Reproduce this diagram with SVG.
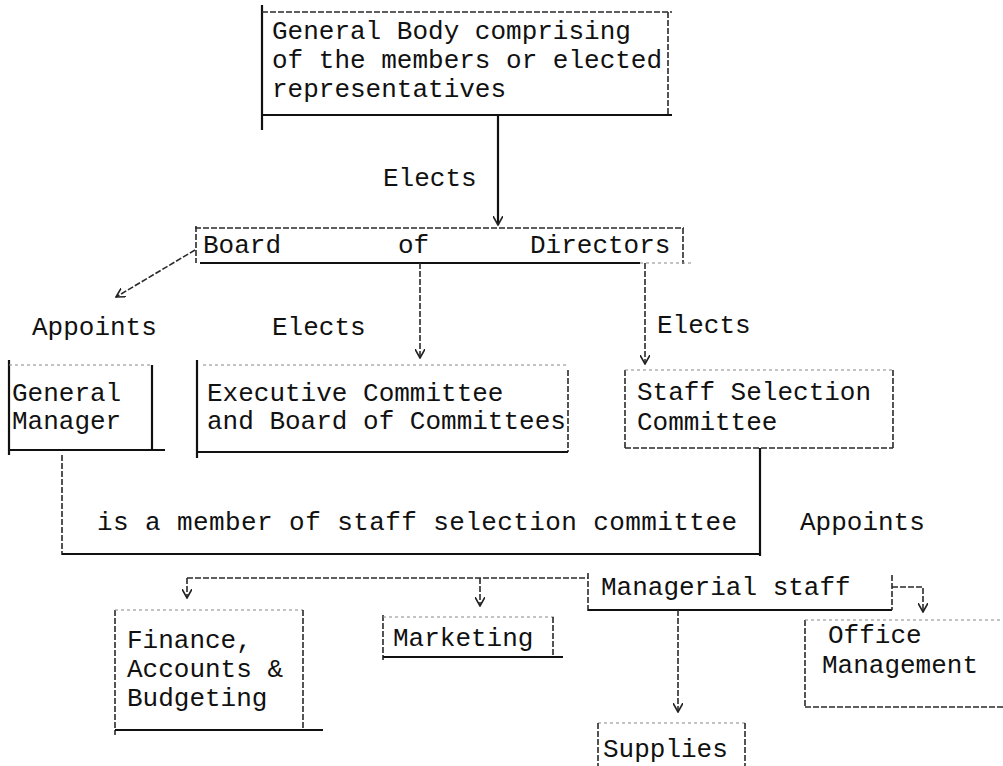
<svg xmlns="http://www.w3.org/2000/svg" width="1003" height="766" viewBox="0 0 1003 766">
<defs>
<marker id="ah" viewBox="0 0 10 10" refX="9" refY="5" markerWidth="10" markerHeight="10" markerUnits="userSpaceOnUse" orient="auto">
<path d="M0,0 L9,5 L0,10" fill="none" stroke="#222" stroke-width="1.6"/>
</marker>
<style>
.t{font-family:"Liberation Mono","Courier New",monospace;font-size:26px;fill:#111}
.s{stroke:#111;stroke-width:2.2;fill:none}
.d{stroke:#2a2a2a;stroke-width:1.6;stroke-dasharray:6 2;fill:none}
.f{stroke:#888;stroke-width:1.2;stroke-dasharray:3 3;fill:none}
.a{marker-end:url(#ah)}
</style>
</defs>
<rect width="1003" height="766" fill="#fff"/>

<g id="general-body">
<path class="s" d="M262,5 V130"/>
<path class="d" d="M262,12 H672"/>
<path class="d" d="M668,12 V115"/>
<path class="s" d="M262,115 H672"/>
<text class="t" x="272" y="39">General Body comprising</text>
<text class="t" x="272" y="68">of the members or elected</text>
<text class="t" x="272" y="97">representatives</text>
</g>

<g id="board">
<path class="d" d="M195,228 H684"/>
<path class="d" d="M196,226 V263"/>
<path class="d" d="M683,228 V264"/>
<path class="s" d="M200,263 H640"/>
<path class="f" d="M640,263 H693"/>
<text class="t" x="203" y="253">Board</text>
<text class="t" x="398" y="253">of</text>
<text class="t" x="530" y="253">Directors</text>
</g>

<g id="general-manager">
<path class="s" d="M9,360 V455"/>
<path class="f" d="M9,365 H150"/>
<path class="s" d="M152,365 V450"/>
<path class="s" d="M9,450 H165"/>
<text class="t" x="12" y="401">General</text>
<text class="t" x="12" y="429">Manager</text>
</g>

<g id="executive-committee">
<path class="s" d="M197,360 V458"/>
<path class="f" d="M203,365 H568"/>
<path class="d" d="M568,370 V452"/>
<path class="s" d="M197,452 H568"/>
<text class="t" x="207" y="401">Executive Committee</text>
<text class="t" x="207" y="429">and Board of Committees</text>
</g>

<g id="staff-selection">
<path class="d" d="M625,370 V448"/>
<path class="f" d="M625,370 H893"/>
<path class="d" d="M893,370 V450"/>
<path class="d" d="M625,448 H893"/>
<text class="t" x="637" y="400">Staff Selection</text>
<text class="t" x="637" y="430">Committee</text>
</g>

<g id="managerial-staff">
<path class="d" d="M588,573 V612"/>
<path class="s" d="M588,610 H892"/>
<path class="d" d="M892,575 V610"/>
<text class="t" x="601" y="595">Managerial staff</text>
</g>

<g id="finance">
<path class="d" d="M115,610 V735"/>
<path class="f" d="M115,610 H303"/>
<path class="d" d="M303,610 V728"/>
<path class="s" d="M115,730 H323"/>
<text class="t" x="127" y="648">Finance,</text>
<text class="t" x="127" y="677">Accounts &amp;</text>
<text class="t" x="127" y="706">Budgeting</text>
</g>

<g id="marketing">
<path class="d" d="M383,615 V660"/>
<path class="f" d="M383,617 H555"/>
<path class="d" d="M553,617 V655"/>
<path class="s" d="M383,657 H563"/>
<text class="t" x="393" y="646">Marketing</text>
</g>

<g id="office-management">
<path class="d" d="M805,620 V707"/>
<path class="f" d="M805,620 H1003"/>
<path class="d" d="M805,707 H1003"/>
<text class="t" x="828" y="643">Office</text>
<text class="t" x="822" y="673">Management</text>
</g>

<g id="supplies">
<path class="f" d="M598,723 H745"/>
<path class="d" d="M598,723 V766"/>
<path class="d" d="M745,723 V766"/>
<text class="t" x="603" y="757">Supplies</text>
</g>

<g id="connectors">
<path class="s a" d="M498,115 V225"/>
<path class="d a" d="M195,250 L116,297"/>
<path class="d a" d="M420,263 V358"/>
<path class="d a" d="M645,263 V364"/>
<path class="d" d="M62,455 V555"/>
<path class="s" d="M62,554 H760"/>
<path class="s" d="M760,448 V556"/>
<path class="d" d="M187,578 H588"/>
<path class="d a" d="M187,578 V598"/>
<path class="d a" d="M480,578 V606"/>
<path class="d a" d="M892,587 H923 V612"/>
<path class="d a" d="M678,610 V712"/>
<text class="t" x="383" y="186">Elects</text>
<text class="t" x="32" y="335">Appoints</text>
<text class="t" x="272" y="335">Elects</text>
<text class="t" x="657" y="333">Elects</text>
<text class="t" x="97" y="530" textLength="640" lengthAdjust="spacing">is a member of staff selection committee</text>
<text class="t" x="800" y="530">Appoints</text>
</g>
</svg>
